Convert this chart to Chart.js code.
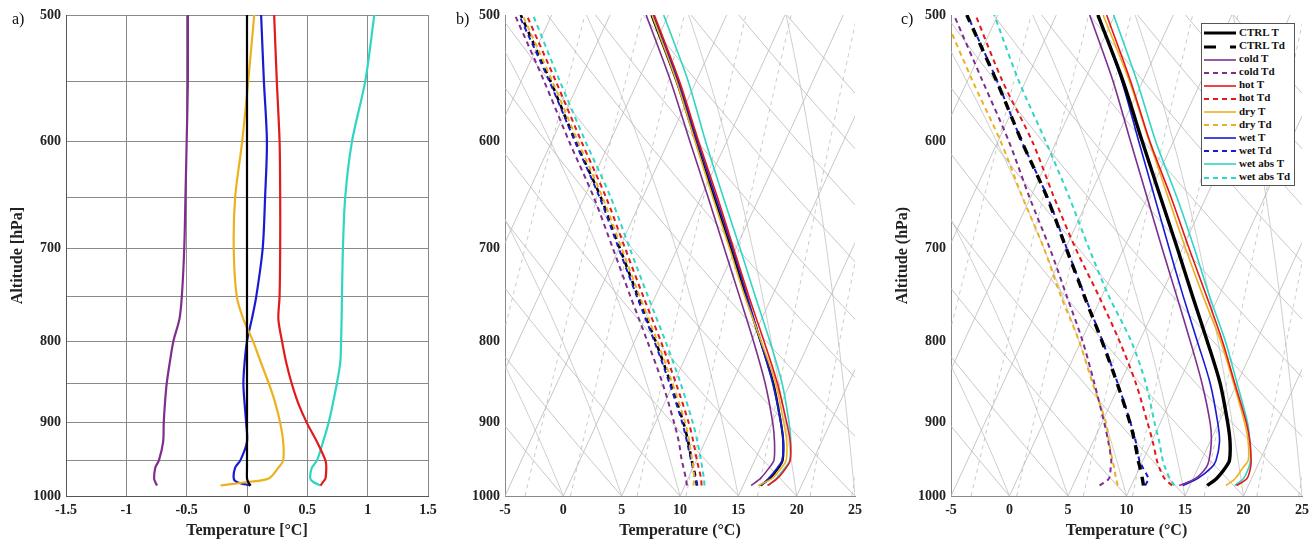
<!DOCTYPE html>
<html>
<head>
<meta charset="utf-8">
<script src="https://cdn.jsdelivr.net/npm/chart.js@4.4.1/dist/chart.umd.min.js"></script>
<style>
  body { margin: 0; background: #fff; width: 1312px; height: 540px; position: relative; overflow: hidden; font-family: "Liberation Serif", "Times New Roman", serif; }
  canvas { position: absolute; top: 0; }
  .tag { position: absolute; top: 10px; font-size: 16px; color: #111; }
  #legend { position: absolute; left: 1201px; top: 23px; width: 90px; background: #fff; border: 1px solid #555; padding: 2px 0 2px 2px; font-size: 11px; font-weight: bold; color: #111; }
  #legend div { height: 13.1px; line-height: 13.1px; white-space: nowrap; }
  #legend svg { vertical-align: middle; margin-right: 3px; }
</style>
</head>
<body>
<canvas id="chartA" width="440" height="540" style="left:0"></canvas>
<canvas id="chartB" width="440" height="540" style="left:440px"></canvas>
<canvas id="chartC" width="432" height="540" style="left:880px"></canvas>
<div class="tag" style="left:12px">a)</div>
<div class="tag" style="left:456px">b)</div>
<div class="tag" style="left:901px">c)</div>
<div id="legend"></div>
<script>
console.log("skew-T panels");

// ---- data ----
// panel a: temperature difference to CTRL [°C] at each pressure level [hPa]
const pressA = [985, 980, 975, 960, 950, 925, 900, 875, 850, 825, 800, 775, 750, 700, 650, 600, 550, 500];
const diffCtrl = [0.03, 0.01, 0, 0, 0, 0, 0, 0, 0, 0, 0, 0, 0, 0, 0, 0, 0, 0];
const diffCold = [-0.745, -0.76, -0.77, -0.76, -0.73, -0.695, -0.69, -0.68, -0.665, -0.64, -0.61, -0.56, -0.54, -0.52, -0.51, -0.50, -0.49, -0.49];
const diffHot = [0.61, 0.63, 0.65, 0.657, 0.65, 0.58, 0.496, 0.425, 0.37, 0.325, 0.29, 0.26, 0.27, 0.275, 0.275, 0.27, 0.247, 0.225];
const diffDry = [-0.22, 0.0, 0.18, 0.26, 0.30, 0.30, 0.275, 0.235, 0.18, 0.115, 0.05, -0.03, -0.085, -0.11, -0.098, -0.04, 0.01, 0.06];
const diffWet = [0.026, -0.085, -0.11, -0.098, -0.055, 0, -0.007, -0.02, -0.03, -0.02, 0.0, 0.04, 0.077, 0.13, 0.15, 0.165, 0.14, 0.117];
const diffWetAbs = [0.61, 0.55, 0.524, 0.538, 0.58, 0.63, 0.676, 0.712, 0.745, 0.773, 0.78, 0.784, 0.787, 0.795, 0.814, 0.87, 0.98, 1.055];

// panels b and c: values as read on the skewed temperature axis [°C]
const pressB = [985, 975, 960, 950, 925, 900, 850, 800, 750, 700, 650, 600, 550, 500];
const ctrlT = [16.9, 17.7, 18.45, 18.8, 18.85, 18.65, 18.0, 16.9, 15.65, 14.35, 12.9, 11.35, 9.7, 7.55];
const ctrlTd = [11.45, 11.35, 11.15, 11.0, 10.7, 10.3, 9.2, 7.9, 6.4, 4.85, 3.2, 1.05, -1.1, -3.65];

const bColdT = [16.1, 16.9, 17.65, 18.05, 18.1, 17.95, 17.3, 16.3, 15.1, 13.8, 12.4, 10.85, 9.2, 7.1];
const bColdTd = [10.6, 10.5, 10.3, 10.15, 9.9, 9.5, 8.5, 7.2, 5.75, 4.25, 2.6, 0.5, -1.65, -4.15];
const bHotT = [17.5, 18.35, 19.1, 19.45, 19.45, 19.15, 18.35, 17.2, 15.9, 14.6, 13.2, 11.6, 9.95, 7.8];
const bHotTd = [11.85, 11.8, 11.6, 11.45, 11.15, 10.75, 9.65, 8.35, 6.85, 5.3, 3.65, 1.55, -0.65, -3.15];
const bDryT = [16.7, 17.9, 18.7, 19.1, 19.15, 18.9, 18.2, 16.95, 15.55, 14.25, 12.8, 11.3, 9.7, 7.6];
const bDryTd = [11.15, 11.2, 11.15, 11.05, 10.8, 10.45, 9.35, 8.05, 6.55, 5.0, 3.35, 1.25, -0.95, -3.5];
const bWetT = [16.95, 17.6, 18.35, 18.75, 18.85, 18.65, 17.95, 16.9, 15.75, 14.5, 13.05, 11.5, 9.85, 7.7];
const bWetTd = [11.5, 11.3, 11.1, 10.95, 10.6, 10.2, 9.1, 7.8, 6.3, 4.75, 3.1, 1.0, -1.2, -3.8];
const bWetAbsT = [17.6, 18.25, 19.0, 19.4, 19.5, 19.35, 18.75, 17.7, 16.45, 15.15, 13.7, 12.2, 10.7, 8.6];
const bWetAbsTd = [12.1, 12.05, 11.9, 11.8, 11.5, 11.1, 10.05, 8.75, 7.25, 5.7, 4.05, 1.9, -0.3, -2.6];

const cColdT = [14.5, 15.9, 16.8, 17.05, 17.25, 17.15, 16.45, 15.45, 14.3, 13.05, 11.75, 10.35, 8.85, 6.85];
const cColdTd = [7.7, 8.5, 8.65, 8.7, 8.45, 8.1, 7.25, 6.25, 4.9, 3.45, 1.7, -0.05, -2.3, -4.75];
const cHotT = [19.4, 20.3, 20.6, 20.65, 20.55, 20.25, 19.25, 18.2, 16.85, 15.35, 13.8, 12.0, 10.35, 8.3];
const cHotTd = [13.9, 13.25, 12.8, 12.6, 12.25, 11.8, 10.8, 9.4, 7.65, 5.65, 3.8, 1.95, -0.6, -2.9];
const cDryT = [18.5, 19.3, 19.95, 20.4, 20.4, 20.1, 19.15, 18.05, 16.55, 15.05, 13.55, 11.95, 10.25, 8.0];
const cDryTd = [9.25, 9.1, 8.95, 8.8, 8.5, 8.25, 7.1, 5.95, 4.4, 2.95, 1.1, -0.75, -3.15, -5.6];
const cWetT = [14.8, 16.1, 17.25, 17.65, 17.95, 17.8, 17.15, 16.05, 14.85, 13.65, 12.4, 11.05, 9.6, 7.6];
const cWetTd = [11.6, 11.85, 11.4, 11.1, 10.8, 10.35, 9.25, 7.95, 6.45, 4.9, 3.25, 1.05, -1.05, -3.6];
const cWetAbsT = [19.25, 20.0, 20.45, 20.6, 20.55, 20.35, 19.45, 18.45, 17.1, 15.8, 14.3, 12.5, 10.9, 8.9];
const cWetAbsTd = [14.1, 13.7, 13.3, 13.1, 12.8, 12.4, 11.65, 10.4, 8.5, 6.8, 5.1, 3.1, 0.8, -1.3];

// axis ticks
const yGridA = [500, 550, 600, 650, 700, 750, 800, 850, 900, 950, 1000];
const yTicksSkew = [500, 600, 700, 800, 900, 1000];

// skew-T guide lines (reference lines of the diagram, not data)
const SKEW = 19; // °C shift per halving of pressure
const isothermVals = [-25, -20, -15, -10, -5, 0, 5, 10, 15, 20, 25];
const dryAdiabatVals = [-5, 0, 5, 10, 15, 20, 25, 30, 35, 40, 45, 50, 55, 60];
const moistAdiabatVals = [0, 5, 10, 15, 20, 25];
const mixingRatioVals = [1, 2, 3, 4, 6, 8, 12, 16, 20];

const COLORS = { ctrl: "#000000", cold: "#7E2F8E", hot: "#E3191B", dry: "#EDB120", wet: "#1a1ad2", wetabs: "#2fd6c3" };

// ---- helpers ----
const serif = "'Liberation Serif', 'Times New Roman', serif";

function line(label, press, vals, color, width, dash) {
  return {
    label: label,
    data: press.map((p, i) => ({ x: vals[i], y: p })),
    borderColor: color,
    backgroundColor: color,
    borderWidth: width,
    borderDash: dash || [],
    showLine: true,
    pointRadius: 0,
    tension: 0.3,
    fill: false
  };
}

function skew(t, p) { return t + SKEW * Math.log2(1000 / p); }

function satVap(tc) { return 6.112 * Math.exp(17.67 * tc / (tc + 243.5)); }

const skewBackground = {
  id: "skewBackground",
  beforeDatasetsDraw(chart) {
    const { ctx, chartArea: a, scales } = chart;
    const xs = scales.x, ys = scales.y;
    const pLevels = [];
    for (let p = 1000; p >= 500; p -= 10) pLevels.push(p);

    ctx.save();
    ctx.beginPath();
    ctx.rect(a.left, a.top, a.right - a.left, a.bottom - a.top);
    ctx.clip();
    ctx.lineWidth = 0.8;

    function draw(pts, dash, color) {
      ctx.strokeStyle = color;
      ctx.setLineDash(dash);
      ctx.beginPath();
      pts.forEach(([t, p], i) => {
        const px = xs.getPixelForValue(skew(t, p));
        const py = ys.getPixelForValue(p);
        if (i === 0) ctx.moveTo(px, py); else ctx.lineTo(px, py);
      });
      ctx.stroke();
    }

    // isotherms
    isothermVals.forEach(t => draw([[t, 1000], [t, 500]], [], "#b9b9b9"));
    // dry adiabats
    dryAdiabatVals.forEach(th => {
      draw(pLevels.map(p => [(th + 273.15) * Math.pow(p / 1000, 0.2857) - 273.15, p]), [], "#b9b9b9");
    });
    // moist adiabats
    moistAdiabatVals.forEach(t0 => {
      let T = t0 + 273.15;
      const pts = [[t0, 1000]];
      for (let p = 1000; p > 500; p -= 5) {
        const es = satVap(T - 273.15);
        const rs = 0.622 * es / (p - es);
        const dTdp = (287.04 * T + 2.501e6 * rs) / (1005.7 + 2.501e6 * 2.501e6 * rs * 0.622 / (287.04 * T * T)) / p;
        T -= dTdp * 5;
        pts.push([T - 273.15, p - 5]);
      }
      draw(pts, [], "#c2c2c2");
    });
    // mixing ratio lines
    mixingRatioVals.forEach(w => {
      draw(pLevels.map(p => {
        const e = (w / 1000) * p / (0.622 + w / 1000);
        const l = Math.log(e / 6.112);
        return [243.5 * l / (17.67 - l), p];
      }), [4, 4], "#bdbdbd");
    });
    ctx.restore();
  }
};

function yAxis(width, gridVals, labelVals, title, titlePad, grid) {
  return {
    type: "logarithmic",
    reverse: true,
    min: 500,
    max: 1000,
    afterBuildTicks: s => { s.ticks = gridVals.map(v => ({ value: v })); },
    afterFit: s => { s.width = width; s.paddingTop = 0; s.paddingBottom = 0; },
    ticks: {
      autoSkip: false,
      padding: 5,
      color: "#222",
      font: { family: serif, size: 14, weight: "bold" },
      callback: v => (labelVals.includes(v) ? String(v) : "")
    },
    grid: grid,
    border: { display: true, color: grid.display ? "#555" : "#8a8a8a", width: 1 },
    title: { display: !!title, text: title || "", color: "#222", padding: { top: titlePad, bottom: 0 }, font: { family: serif, size: 16, weight: "bold" } }
  };
}

function xAxis(min, max, step, title, grid) {
  return {
    type: "linear",
    min: min,
    max: max,
    afterFit: s => { s.height = 44; s.paddingLeft = 0; s.paddingRight = 0; },
    ticks: {
      stepSize: step,
      padding: 6,
      color: "#222",
      font: { family: serif, size: 14, weight: "bold" },
      callback: v => String(Math.round(v * 10) / 10)
    },
    grid: grid,
    border: { display: true, color: grid.display ? "#555" : "#8a8a8a", width: 1 },
    title: { display: true, text: title, color: "#222", padding: { top: 0, bottom: 0 }, font: { family: serif, size: 16, weight: "bold" } }
  };
}

const dotted = { display: true, color: "#8a8a8a", lineWidth: 1, borderDash: [1, 3], drawTicks: false };
const noGrid = { display: false, drawTicks: false };

// ---- panel a ----
new Chart(document.getElementById("chartA"), {
  type: "scatter",
  data: {
    datasets: [
      line("CTRL", pressA, diffCtrl, COLORS.ctrl, 2.2),
      line("cold", pressA, diffCold, COLORS.cold, 2.2),
      line("hot", pressA, diffHot, COLORS.hot, 2.2),
      line("dry", pressA, diffDry, COLORS.dry, 2.2),
      line("wet", pressA, diffWet, COLORS.wet, 2.2),
      line("wet abs", pressA, diffWetAbs, COLORS.wetabs, 2.2)
    ]
  },
  options: {
    responsive: false,
    animation: false,
    layout: { padding: { top: 15, right: 12, left: 0, bottom: 0 } },
    plugins: { legend: { display: false }, tooltip: { enabled: false } },
    scales: {
      x: xAxis(-1.5, 1.5, 0.5, "Temperature [°C]", dotted),
      y: yAxis(66, yGridA, yTicksSkew, "Altitude [hPa]", 8, dotted)
    }
  }
});

// ---- panels b and c ----
function skewChart(id, sets, yWidth, rightPad, yTitle, titlePad) {
  return new Chart(document.getElementById(id), {
    type: "scatter",
    data: { datasets: sets },
    options: {
      responsive: false,
      animation: false,
      layout: { padding: { top: 15, right: rightPad, left: 0, bottom: 0 } },
      plugins: { legend: { display: false }, tooltip: { enabled: false } },
      scales: {
        x: xAxis(-5, 25, 5, "Temperature (°C)", noGrid),
        y: yAxis(yWidth, yTicksSkew, yTicksSkew, yTitle, titlePad, noGrid)
      }
    },
    plugins: [skewBackground]
  });
}

const dashC = [5, 4];

skewChart("chartB", [
  line("cold T", pressB, bColdT, COLORS.cold, 1.6),
  line("cold Td", pressB, bColdTd, COLORS.cold, 2, dashC),
  line("hot T", pressB, bHotT, COLORS.hot, 1.6),
  line("hot Td", pressB, bHotTd, COLORS.hot, 2, dashC),
  line("dry T", pressB, bDryT, COLORS.dry, 1.6),
  line("dry Td", pressB, bDryTd, COLORS.dry, 2, dashC),
  line("wet T", pressB, bWetT, COLORS.wet, 1.8),
  line("wet Td", pressB, bWetTd, COLORS.wet, 2, dashC),
  line("wet abs T", pressB, bWetAbsT, COLORS.wetabs, 1.6),
  line("wet abs Td", pressB, bWetAbsTd, COLORS.wetabs, 2, dashC),
  line("CTRL T", pressB, ctrlT, COLORS.ctrl, 2.2),
  line("CTRL Td", pressB, ctrlTd, COLORS.ctrl, 2.6, [5, 5])
], 65, 25, "", 0);

const chartC = skewChart("chartC", [
  line("CTRL T", pressB, ctrlT, COLORS.ctrl, 3.4),
  line("CTRL Td", pressB, ctrlTd, COLORS.ctrl, 3.4, [9, 7]),
  line("cold T", pressB, cColdT, COLORS.cold, 1.6),
  line("cold Td", pressB, cColdTd, COLORS.cold, 2, dashC),
  line("hot T", pressB, cHotT, COLORS.hot, 1.6),
  line("hot Td", pressB, cHotTd, COLORS.hot, 2, dashC),
  line("dry T", pressB, cDryT, COLORS.dry, 1.6),
  line("dry Td", pressB, cDryTd, COLORS.dry, 2, dashC),
  line("wet T", pressB, cWetT, COLORS.wet, 1.6),
  line("wet Td", pressB, cWetTd, COLORS.wet, 2, dashC),
  line("wet abs T", pressB, cWetAbsT, COLORS.wetabs, 1.6),
  line("wet abs Td", pressB, cWetAbsTd, COLORS.wetabs, 2, dashC)
], 71, 10, "Altitude (hPa)", 13);

// legend of panel c, built from its datasets
const legendBox = document.getElementById("legend");
chartC.data.datasets.forEach(ds => {
  const row = document.createElement("div");
  const dash = ds.label === "CTRL Td" ? "12,14" : (ds.borderDash.length ? ds.borderDash.join(",") : "none");
  row.innerHTML = '<svg width="32" height="6"><line x1="0" y1="3" x2="32" y2="3" stroke="' + ds.borderColor +
    '" stroke-width="' + Math.min(ds.borderWidth, 3) + '" stroke-dasharray="' + dash + '"/></svg>' + ds.label;
  legendBox.appendChild(row);
});
</script>
</body>
</html>
